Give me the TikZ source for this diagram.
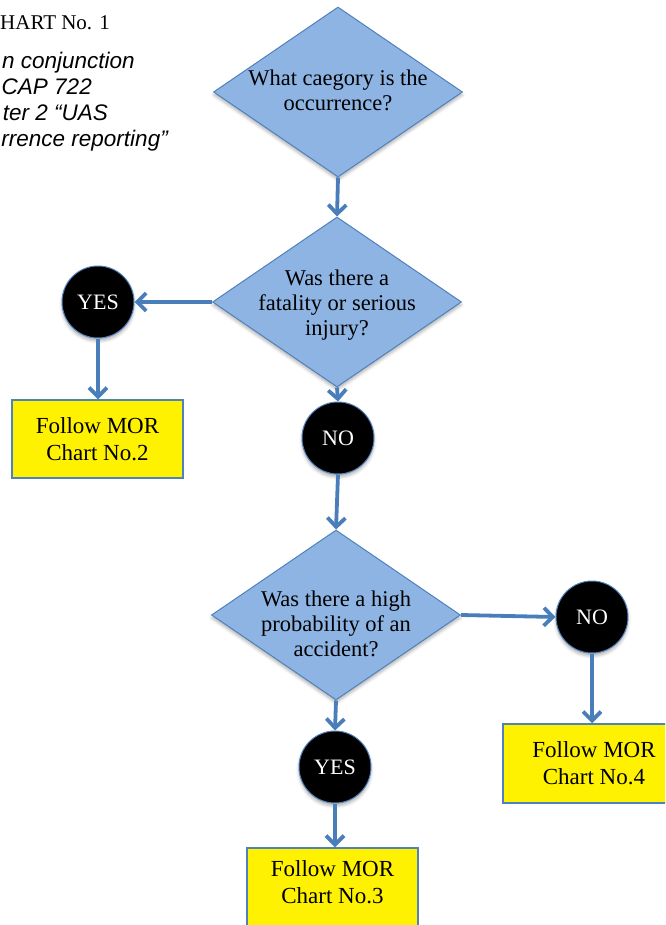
\documentclass[tikz,border=0pt]{standalone}
\usepackage{fontspec}
\setmainfont{Liberation Serif}
\newfontfamily\notesans{Liberation Sans}
\usetikzlibrary{shapes.geometric,arrows.meta,shadows.blur}

\definecolor{qfill}{HTML}{8EB4E3}
\definecolor{qedge}{HTML}{4F81BD}
\definecolor{flowblue}{HTML}{4A7EBB}

\tikzset{
  softshadow/.style={blur shadow={shadow xshift=0pt, shadow yshift=-3pt,
      shadow blur radius=3pt, shadow opacity=30}},
  question/.style={diamond, draw=qedge, line width=1pt, fill=qfill,
      inner sep=0pt, minimum width=249pt, minimum height=170pt, softshadow},
  qtext/.style={align=center, inner sep=0pt, text=black,
      font=\fontsize{22.5}{25}\selectfont},
  answer/.style={circle, draw=qedge, line width=1pt, fill=black, text=white,
      minimum size=72pt, inner sep=0pt, font=\fontsize{22}{25}\selectfont,
      softshadow},
  outcome/.style={rectangle, draw=qedge, line width=1.5pt, fill=yellow,
      minimum width=171pt, minimum height=78pt, inner sep=0pt, align=center,
      font=\fontsize{23}{27}\selectfont},
  flowarrow/.style={draw=flowblue, line width=3.8pt,
      -{Straight Barb[length=9pt,width=18pt]}},
  notetext/.style={anchor=base east, inner sep=0pt,
      font=\notesans\itshape\fontsize{22.5}{26}\selectfont},
}

\begin{document}
\begin{tikzpicture}[x=1pt,y=-1pt]
  \useasboundingbox (0,0) rectangle (665,925);
  \clip (0,0) rectangle (665,925);

  % heading and note in the upper left corner
  \node[anchor=base west, inner sep=0pt, font=\fontsize{21}{24}\selectfont]
    (title) at (0,30) {HART No. 1};
  \node[notetext] (note1) at (135,69)  {n conjunction};
  \node[notetext] (note2) at (92,95)   {CAP 722};
  \node[notetext] (note3) at (108,121) {ter 2 “UAS};
  \node[notetext] (note4) at (168,147) {rrence reporting”};

  % decisions
  \node[question] (d1) at (338,92)  {};
  \node[qtext] (t1) at (338,90)  {What caegory is the\\occurrence?};
  \node[question] (d2) at (337,302) {};
  \node[qtext] (t2) at (337,305) {Was there a\\fatality or serious\\injury?};
  \node[question] (d3) at (336,615) {};
  \node[qtext] (t3) at (336,624) {Was there a high\\probability of an\\accident?};

  % answers
  \node[answer] (yes1) at (98,302)  {YES};
  \node[answer] (no1)  at (338,438) {NO};
  \node[answer] (no2)  at (592,617) {NO};
  \node[answer] (yes2) at (335,767) {YES};

  % outcomes
  \node[outcome] (c2) at (97.5,439) {Follow MOR\\Chart No.2};
  \node[outcome, minimum width=182pt, minimum height=79pt] (c4) at (594,763.5) {Follow MOR\\Chart No.4};
  \node[outcome, text depth=10pt] (c3) at (332.5,887) {Follow MOR\\Chart No.3};

  % connectors
  \draw[flowarrow] (d1.south) -- (d2.north);
  \draw[flowarrow] (d2.west) -- (yes1.east);
  \draw[flowarrow] (yes1.south) -- (yes1.south |- c2.north);
  \draw[flowarrow] (d2.south) -- (no1.north);
  \draw[flowarrow] (no1.south) -- (d3.north);
  \draw[flowarrow] (d3.east) -- (no2.west);
  \draw[flowarrow] (no2.south) -- (no2.south |- c4.north);
  \draw[flowarrow] (d3.south) -- (yes2.north);
  \draw[flowarrow] (yes2.south) -- (yes2.south |- c3.north);
\end{tikzpicture}
\end{document}
